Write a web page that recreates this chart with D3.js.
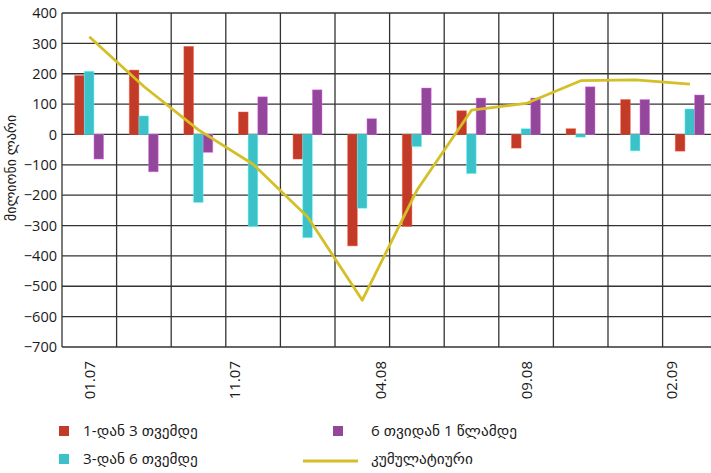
<!DOCTYPE html>
<html>
<head>
<meta charset="utf-8">
<script src="https://cdn.jsdelivr.net/npm/d3@7"></script>
<style>
  html, body { margin: 0; padding: 0; background: #fff; }
  svg { display: block; }
  text { font-family: "Open Sans", "DejaVu Sans", sans-serif; fill: #1a1a1a; }
</style>
</head>
<body>
<svg id="chart" width="711" height="473"></svg>
<script>
// ---- data ----
const categories = ["p1","p2","p3","p4","p5","p6","p7","p8","p9","p10","p11","p12"];
const seriesNames = ["1-დან 3 თვემდე", "3-დან 6 თვემდე", "6 თვიდან 1 წლამდე"];
const lineName = "კუმულატიური";
const s1to3 = [194, 212, 290, 74, -81, -367, -303, 78, -45, 19, 115, -55];
const s3to6 = [208, 61, -224, -303, -340, -243, -40, -129, 19, -9, -54, 84];
const s6to12 = [-81, -123, -59, 124, 147, 52, 153, 120, 120, 157, 115, 130];
const cumulative = [322, 158, 15, -98, -272, -546, -184, 80, 102, 177, 180, 166];
const tickLabels = ["01.07", "11.07", "04.08", "09.08", "02.09"];
const tickIndex = [0, 2.67, 5.33, 8, 10.67];
const yTicks = [-700, -600, -500, -400, -300, -200, -100, 0, 100, 200, 300, 400];
const yTitle = "მილიონი ლარი";
const colors = ["#c23a28", "#3cc1c9", "#93479b"];
const lineColor = "#d4bf26";

// ---- layout ----
const mLeft = 62, mTop = 13, mBottom = 347, step = 54.6;
const svg = d3.select("#chart");

const x0 = d3.scaleBand().domain(categories).range([mLeft, mLeft + step * categories.length]).padding(0);
const xIdx = d3.scaleLinear().domain([0, categories.length]).range([mLeft, mLeft + step * categories.length]);
const bw = x0.bandwidth();
const x1 = d3.scaleBand().domain([0, 1, 2]).range([bw * 0.232, bw * 0.762]).padding(0);
const y = d3.scaleLinear().domain([-700, 400]).range([mBottom, mTop]);

// grid
const grid = svg.append("g");
grid.selectAll("line.h").data(yTicks).join("line")
  .attr("x1", mLeft).attr("x2", mLeft + step * categories.length)
  .attr("y1", d => y(d)).attr("y2", d => y(d))
  .attr("stroke", "#333").attr("stroke-width", 1.3);
grid.selectAll("line.v").data(d3.range(categories.length + 1)).join("line")
  .attr("x1", d => xIdx(d)).attr("x2", d => xIdx(d))
  .attr("y1", y(400)).attr("y2", y(-700))
  .attr("stroke", "#333").attr("stroke-width", 1.3);

// bars
const series = [s1to3, s3to6, s6to12];
series.forEach((vals, si) => {
  svg.append("g").selectAll("rect").data(vals).join("rect")
    .attr("x", (d, i) => x0(categories[i]) + x1(si))
    .attr("width", x1.bandwidth())
    .attr("y", d => y(Math.max(0, d)))
    .attr("height", d => Math.abs(y(d) - y(0)))
    .attr("fill", colors[si])
    .attr("stroke", d3.color(colors[si]).brighter(1.3))
    .attr("stroke-opacity", 0.55)
    .attr("stroke-width", 0.8);
});

// cumulative line
const line = d3.line()
  .x((d, i) => x0(categories[i]) + bw / 2)
  .y(d => y(d));
svg.append("path").datum(cumulative)
  .attr("d", line)
  .attr("fill", "none")
  .attr("stroke", lineColor)
  .attr("stroke-width", 2.8)
  .attr("stroke-linejoin", "round");

// y axis
const yAxis = d3.axisLeft(y).tickValues(yTicks).tickSize(0).tickPadding(5).tickFormat(d3.format("d"));
const ya = svg.append("g").attr("transform", `translate(${mLeft},0)`).call(yAxis);
ya.select(".domain").remove();
ya.selectAll("text").attr("font-size", 14.5).attr("fill", "#1a1a1a")
  .style("font-family", '"Open Sans", sans-serif');

// y title
svg.append("text")
  .attr("transform", `translate(16,168) rotate(-90)`)
  .attr("text-anchor", "middle")
  .attr("font-size", 14)
  .text(yTitle);

// x labels
svg.append("g").selectAll("text").data(tickLabels).join("text")
  .attr("transform", (d, i) => `translate(${xIdx(tickIndex[i] + 0.5)},361) rotate(-90)`)
  .attr("text-anchor", "end")
  .attr("dy", "0.36em")
  .attr("font-size", 15)
  .text(d => d);

// legend
const legend = svg.append("g");
const legItems = [
  { name: seriesNames[0], type: "rect", color: colors[0], x: 59, tx: 83, y: 431 },
  { name: seriesNames[1], type: "rect", color: colors[1], x: 59, tx: 83, y: 459 },
  { name: seriesNames[2], type: "rect", color: colors[2], x: 333, tx: 371, y: 431 },
  { name: lineName, type: "line", color: lineColor, x: 303, tx: 371, y: 461 }
];
legItems.forEach(it => {
  if (it.type === "rect") {
    legend.append("rect").attr("x", it.x).attr("y", it.y - 5).attr("width", 10).attr("height", 10).attr("fill", it.color);
    legend.append("text").attr("x", it.tx).attr("y", it.y)
      .attr("dy", "0.35em").attr("font-size", 15.3).text(it.name);
  } else {
    legend.append("line").attr("x1", it.x).attr("x2", it.x + 55).attr("y1", it.y).attr("y2", it.y)
      .attr("stroke", it.color).attr("stroke-width", 2.8);
    legend.append("text").attr("x", it.tx).attr("y", it.y - 2)
      .attr("dy", "0.35em").attr("font-size", 15.3).text(it.name);
  }
});
</script>
</body>
</html>
